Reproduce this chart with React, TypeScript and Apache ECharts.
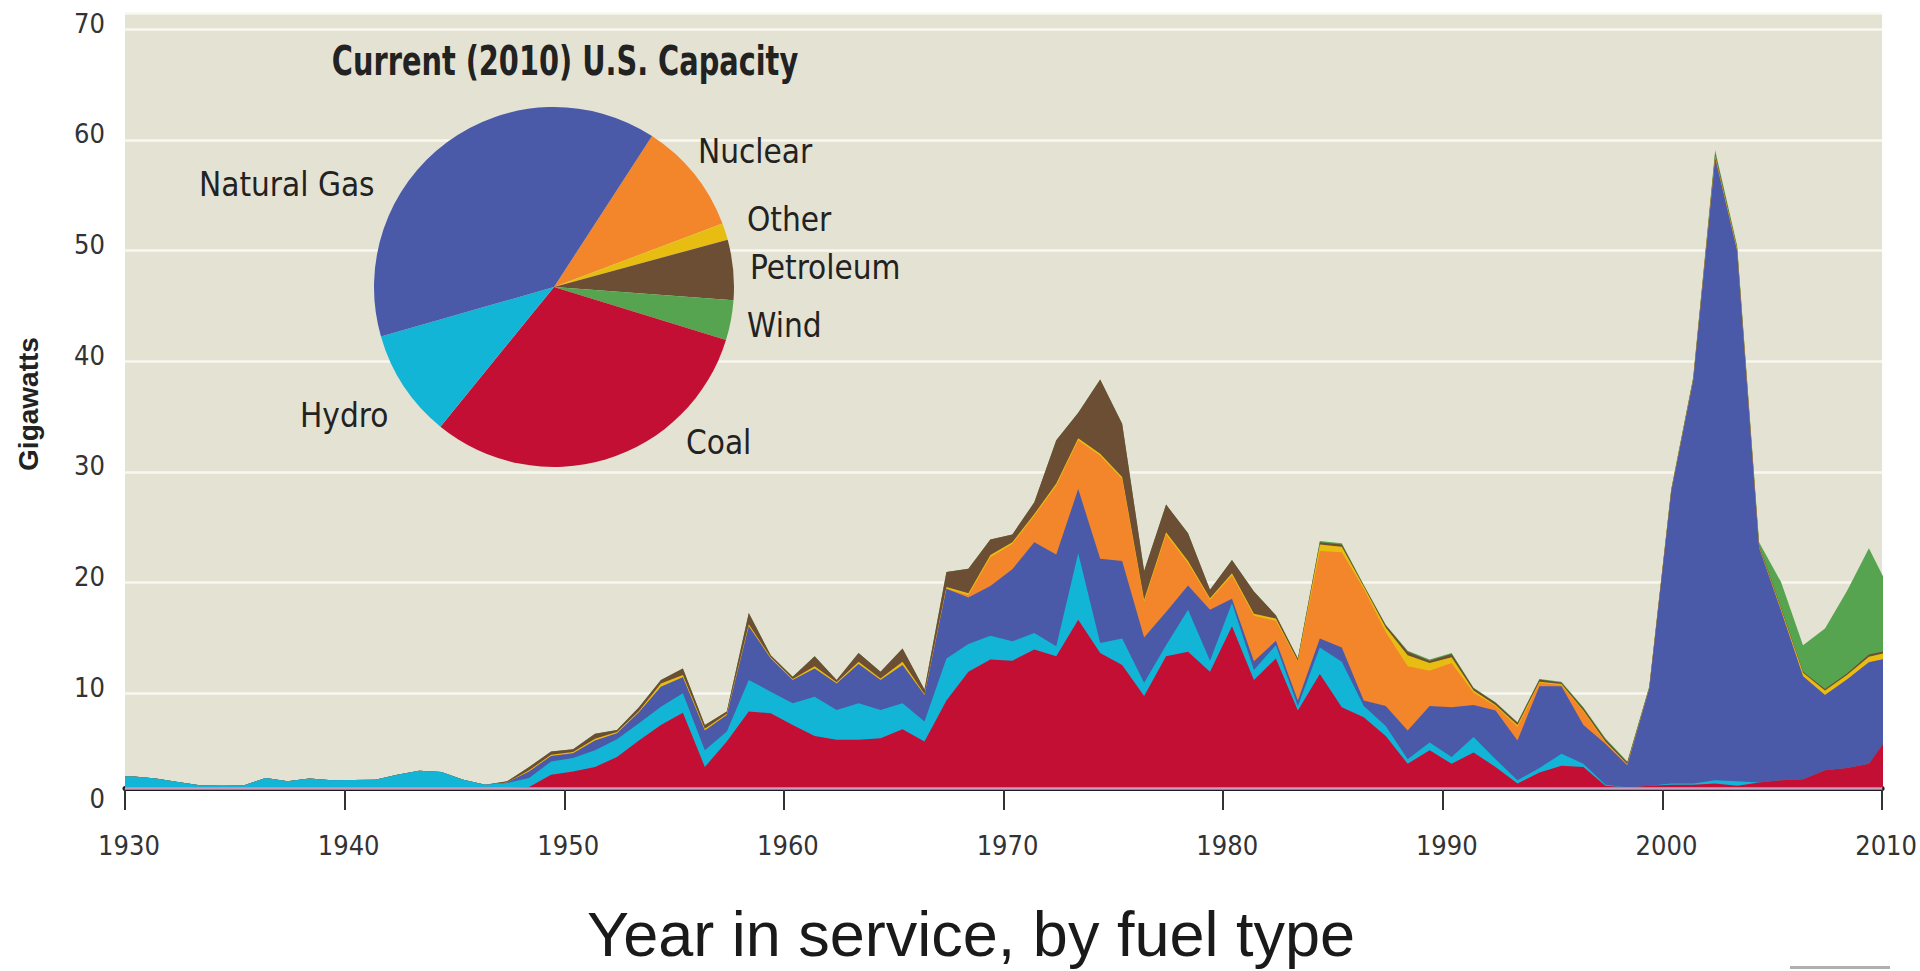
import React, { useEffect, useRef } from "react";
import * as echarts from "echarts";

// ---------- data (GW added per year in service) ----------
const FIRST_YEAR = 1929;

const COAL = [
  0,
  0, 0, 0, 0, 0, 0, 0, 0, 0, 0,
  0, 0, 0, 0, 0, 0, 0, 0, 0.1, 1.2,
  1.5, 1.9, 2.8, 4.3, 5.7, 6.8, 1.9, 4.2, 6.9, 6.75,
  5.7, 4.7, 4.35, 4.35, 4.5, 5.3, 4.2, 7.9, 10.5, 11.6,
  11.5, 12.5, 11.9, 15.2, 12.2, 11.1, 8.3, 11.9, 12.3, 10.5,
  14.6, 9.75, 11.7, 7.0, 10.3, 7.3, 6.4, 4.7, 2.2, 3.4,
  2.2, 3.2, 1.9, 0.4, 1.4, 2.0, 1.9, 0.2, 0.05, 0.2,
  0.3, 0.3, 0.4, 0.2, 0.5, 0.7, 0.8, 1.6, 1.8, 2.2,
  5.0,
];
const HYDRO = [
  1.0,
  1.05, 0.85, 0.55, 0.25, 0.2, 0.22, 0.9, 0.6, 0.85, 0.7,
  0.72, 0.75, 1.2, 1.55, 1.45, 0.75, 0.3, 0.45, 0.8, 1.2,
  1.2, 1.5, 1.6, 1.55, 1.65, 1.75, 1.5, 0.9, 2.85, 1.95,
  1.95, 3.55, 2.7, 3.3, 2.55, 2.35, 1.8, 3.8, 2.5, 2.15,
  1.75, 1.5, 0.9, 6.0, 0.9, 2.4, 1.2, 1.0, 3.8, 1.0,
  2.1, 0.9, 1.2, 0.4, 2.4, 4.1, 1.0, 0.9, 0.4, 0.7,
  0.6, 1.4, 0.7, 0.3, 0.4, 1.1, 0.3, 0.1, 0, 0,
  0.1, 0.1, 0.3, 0.4, 0, 0, 0, 0, 0, 0,
  0,
];
const NATURAL_GAS = [
  0,
  0, 0, 0, 0, 0, 0, 0, 0, 0, 0,
  0, 0, 0, 0, 0, 0, 0, 0.05, 0.6, 0.5,
  0.45, 0.9, 0.55, 1.0, 1.8, 1.45, 1.8, 1.5, 4.85, 3.0,
  2.1, 2.55, 2.4, 3.55, 2.7, 3.45, 2.4, 6.3, 4.2, 4.5,
  6.5, 8.2, 8.3, 5.8, 7.6, 7.0, 4.1, 3.0, 2.2, 4.6,
  0.4, 0.8, 0.4, 0.5, 0.8, 1.3, 0.5, 1.8, 2.6, 3.3,
  4.5, 2.9, 4.4, 3.6, 7.4, 6.1, 3.5, 3.7, 2.0, 8.8,
  26.4, 36.4, 56.2, 47.9, 21.2, 15.3, 9.3, 6.8, 8.0, 9.15,
  6.8,
];
const NUCLEAR = [
  0,
  0, 0, 0, 0, 0, 0, 0, 0, 0, 0,
  0, 0, 0, 0, 0, 0, 0, 0, 0, 0,
  0, 0, 0, 0, 0, 0, 0, 0, 0, 0,
  0, 0, 0, 0, 0, 0, 0, 0, 0.2, 2.6,
  2.3, 2.4, 6.2, 4.4, 9.3, 7.4, 3.2, 7.0, 2.0, 0.9,
  2.1, 4.1, 1.8, 3.5, 7.9, 8.6, 10.1, 6.7, 5.8, 3.2,
  4.0, 1.1, 0.4, 1.2, 0.3, 0.1, 1.2, 0.1, 0, 0,
  0, 0, 0, 0, 0, 0, 0, 0, 0, 0,
  0,
];
const OTHER = [
  0,
  0, 0, 0, 0, 0, 0, 0, 0, 0, 0,
  0, 0, 0, 0, 0, 0, 0, 0, 0.1, 0.1,
  0.1, 0.15, 0.1, 0.1, 0.3, 0.2, 0.15, 0.1, 0.2, 0.1,
  0.1, 0.2, 0.1, 0.2, 0.15, 0.3, 0.1, 0.15, 0.2, 0.2,
  0.15, 0.15, 0.2, 0.2, 0.2, 0.2, 0.2, 0.2, 0.2, 0.15,
  0.2, 0.2, 0.2, 0.1, 0.6, 0.5, 0.2, 0.4, 1.0, 0.7,
  0.5, 0.2, 0.1, 0.2, 0.1, 0.1, 0.1, 0.1, 0.1, 0.05,
  0.1, 0.1, 0.2, 0.2, 0.1, 0.2, 0.3, 0.4, 0.4, 0.5,
  0.5,
];
const PETROLEUM = [
  0,
  0, 0, 0, 0, 0, 0, 0, 0, 0, 0,
  0, 0, 0, 0, 0, 0, 0, 0.1, 0.3, 0.3,
  0.25, 0.45, 0.2, 0.35, 0.3, 0.6, 0.35, 0.2, 1.0, 0.2,
  0.2, 0.9, 0.2, 0.8, 0.6, 1.2, 0.4, 1.35, 2.2, 1.4,
  0.7, 1.05, 3.9, 2.3, 6.7, 4.8, 2.6, 2.5, 2.5, 0.75,
  1.2, 2.0, 0.3, 0.2, 0.2, 0.2, 0.1, 0.2, 0.3, 0.2,
  0.3, 0.2, 0.2, 0.2, 0.2, 0.1, 0.2, 0.2, 0.15, 0.05,
  0.05, 0.1, 0.2, 0.1, 0.1, 0.1, 0.1, 0.15, 0.15, 0.2,
  0.2,
];
const WIND = [
  0,
  0, 0, 0, 0, 0, 0, 0, 0, 0, 0,
  0, 0, 0, 0, 0, 0, 0, 0, 0, 0,
  0, 0, 0, 0, 0, 0, 0, 0, 0, 0,
  0, 0, 0, 0, 0, 0, 0, 0, 0, 0,
  0, 0, 0, 0, 0, 0, 0, 0, 0, 0,
  0, 0, 0, 0, 0.1, 0.1, 0.05, 0.05, 0.1, 0.1,
  0.1, 0.05, 0.05, 0.05, 0.05, 0.1, 0.1, 0.1, 0.1, 0.1,
  0.05, 0.1, 0.3, 0.2, 0.3, 2.3, 2.4, 5.45, 7.45, 9.6,
  5.2,
];

const YEARS = COAL.map((_, i) => FIRST_YEAR + i);

// Pie: current (2010) capacity shares, percent
const PIE_NAMES = ["Nuclear", "Other", "Petroleum", "Wind", "Coal", "Hydro", "Natural Gas"];
const PIE_SHARES = [10.1, 1.5, 5.4, 3.6, 31.1, 9.7, 38.6];

const X_MIN = 1930;
const X_MAX = 2010;
const X_STEP = 10;
const Y_MIN = 0;
const Y_MAX = 70;
const Y_STEP = 10;
// In the source graphic the white rules sit ~0.85 of a step below the stack's
// zero line; a hidden helper axis reproduces that placement.
const RULE_SHIFT = 8.55;

// ---------- styling ----------
const COLORS: Record<string, string> = {
  Coal: "#c40f35",
  Hydro: "#12b5d6",
  "Natural Gas": "#4a5aa8",
  Nuclear: "#f3852a",
  Other: "#e8bd12",
  Petroleum: "#6b4e34",
  Wind: "#57a450",
};
const NARROW = "'Liberation Sans Narrow', 'Arial Narrow', 'DejaVu Sans Condensed', sans-serif";
const SANS = "'Liberation Sans', Arial, sans-serif";
const POINT_OFFSET = 0.4; // each year's point sits inside its year on the axis

// label anchor positions for the pie labels (left edge, vertical centre)
const PIE_LABEL_POS: Record<string, [number, number]> = {
  Nuclear: [698, 151],
  Other: [747, 219],
  Petroleum: [750, 267],
  Wind: [747, 325],
  Coal: [686, 442],
  Hydro: [300, 415],
  "Natural Gas": [199, 184],
};

// bottom-to-top stacking order
const STACK_SERIES: [string, number[]][] = [
  ["Coal", COAL],
  ["Hydro", HYDRO],
  ["Natural Gas", NATURAL_GAS],
  ["Nuclear", NUCLEAR],
  ["Other", OTHER],
  ["Petroleum", PETROLEUM],
  ["Wind", WIND],
];

export default function App() {
  const ref = useRef<HTMLDivElement>(null);

  useEffect(() => {
    if (!ref.current) return;
    const chart = echarts.init(ref.current, undefined, { renderer: "svg" });

    // running totals so each band sits on the ones below it
    const running = YEARS.map(() => 0);
    const cumulative = STACK_SERIES.map(([name, values]) => {
      const tops = values.map((v, i) => (running[i] += v));
      return { name, tops: tops.slice() };
    });

    // draw the tallest total first, then the lower layers over it
    const areaSeries = cumulative
      .slice()
      .reverse()
      .map(({ name, tops }) => ({
        name,
        type: "line",
        yAxisIndex: 0,
        data: YEARS.map((y, i) => [y + POINT_OFFSET, +tops[i].toFixed(3)]),
        showSymbol: false,
        symbol: "none",
        smooth: false,
        lineStyle: { width: 0, color: COLORS[name] },
        areaStyle: { color: COLORS[name], opacity: 1, origin: "start" },
        itemStyle: { color: COLORS[name] },
        silent: true,
        z: 2,
      }));

    const baseline = {
      name: "baseline",
      type: "line",
      yAxisIndex: 0,
      data: [],
      silent: true,
      markLine: {
        silent: true,
        symbol: "none",
        label: { show: false },
        lineStyle: { color: "#c99bbd", width: 2.5, type: "solid" },
        data: [{ yAxis: 0 }],
      },
      z: 5,
    };

    const option: any = {
      animation: false,
      grid: {
        left: 125,
        width: 1764,
        top: 13,
        height: 775,
        show: true,
        backgroundColor: "#e4e3d3",
        borderWidth: 0,
      },
      xAxis: {
        type: "value",
        min: X_MIN,
        max: X_MAX,
        interval: X_STEP,
        offset: 4,
        axisLine: { show: true, lineStyle: { color: "#1c1b24", width: 5 } },
        axisTick: { show: true, length: 22, lineStyle: { color: "#333", width: 2 } },
        axisLabel: {
          margin: 40,
          fontSize: 27,
          fontFamily: NARROW,
          color: "#333",
          padding: [0, 0, 0, 8],
          formatter: (v: number) => String(v),
        },
        splitLine: { show: false },
      },
      yAxis: [
        {
          type: "value",
          min: Y_MIN,
          max: Y_MAX,
          interval: Y_STEP,
          axisLine: { show: false },
          axisTick: { show: false },
          axisLabel: {
            margin: 20,
            fontSize: 27,
            fontFamily: NARROW,
            color: "#333",
            verticalAlign: "top",
            lineHeight: 20,
          },
          splitLine: { show: false },
        },
        {
          // helper axis: only draws the white rules
          type: "value",
          position: "left",
          min: Y_MIN - RULE_SHIFT,
          max: Y_MAX - RULE_SHIFT,
          splitNumber: 7,
          axisLine: { show: false },
          axisTick: { show: false },
          axisLabel: { show: false },
          splitLine: { show: true, lineStyle: { color: "#f8f7f0", width: 2.5 } },
        },
      ],
      series: [
        ...areaSeries,
        baseline,
        {
          name: "Current (2010) U.S. Capacity",
          type: "pie",
          center: [554, 287],
          radius: 180,
          startAngle: 57,
          clockwise: true,
          silent: true,
          avoidLabelOverlap: false,
          z: 10,
          data: PIE_NAMES.map((n, i) => ({
            name: n,
            value: PIE_SHARES[i],
            itemStyle: { color: COLORS[n], borderWidth: 0 },
          })),
          label: {
            show: true,
            position: "outside",
            formatter: "{b}",
            fontFamily: NARROW,
            fontSize: 33,
            color: "#222",
          },
          labelLine: { show: false },
          labelLayout: (params: any) => {
            const name = PIE_NAMES[params.dataIndex];
            const p = PIE_LABEL_POS[name];
            return { x: p[0], y: p[1], align: "left", verticalAlign: "middle" };
          },
          emphasis: { disabled: true },
        },
      ],
      graphic: [
        {
          type: "text",
          z: 100,
          x: 565,
          y: 61,
          scaleX: 0.8,
          style: {
            text: "Current (2010) U.S. Capacity",
            fill: "#222",
            fontFamily: NARROW,
            fontWeight: "bold",
            fontSize: 40,
            align: "center",
            verticalAlign: "middle",
          },
        },
        {
          type: "text",
          z: 100,
          x: 28,
          y: 404,
          rotation: Math.PI / 2,
          style: {
            text: "Gigawatts",
            fill: "#222",
            fontFamily: SANS,
            fontWeight: "bold",
            fontSize: 28,
            align: "center",
            verticalAlign: "middle",
          },
        },
        {
          type: "text",
          z: 100,
          x: 971,
          y: 934,
          style: {
            text: "Year in service, by fuel type",
            fill: "#1a1a1a",
            fontFamily: SANS,
            fontSize: 63,
            align: "center",
            verticalAlign: "middle",
          },
        },
        {
          type: "rect",
          z: 100,
          shape: { x: 1790, y: 966, width: 100, height: 3 },
          style: { fill: "#b0b0b0" },
        },
      ],
    };

    chart.setOption(option);
    return () => chart.dispose();
  }, []);

  return (
    <div
      ref={ref}
      style={{ position: "fixed", left: 0, top: 0, width: 1920, height: 971, background: "#ffffff" }}
    />
  );
}
